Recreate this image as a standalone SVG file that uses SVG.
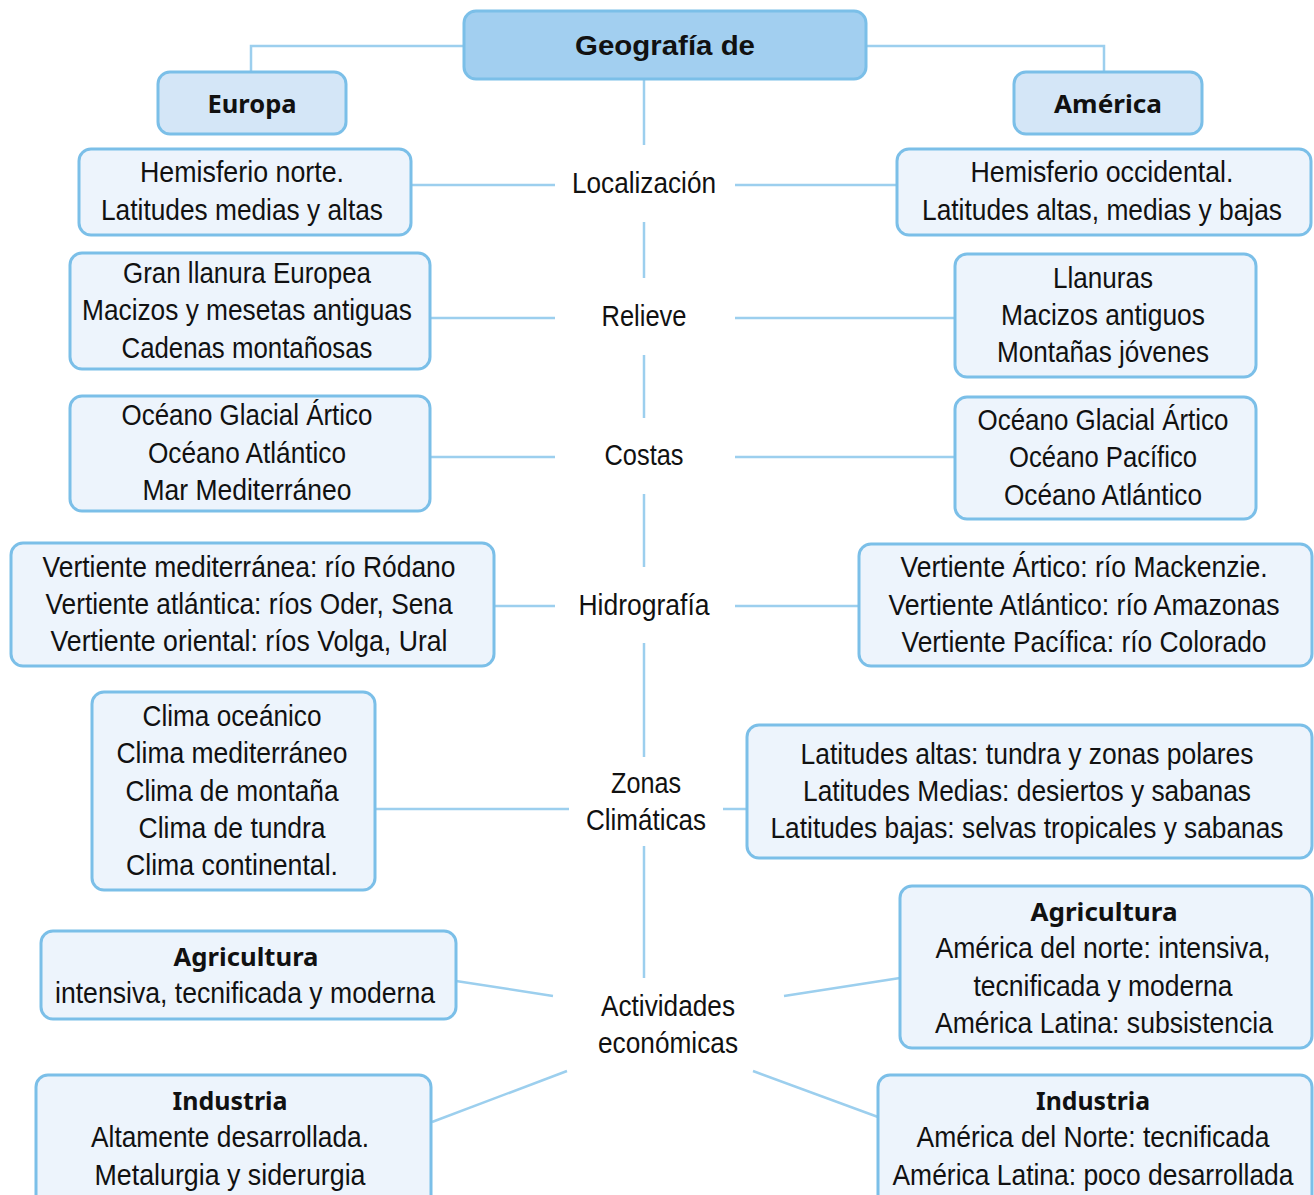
<svg xmlns="http://www.w3.org/2000/svg" width="1314" height="1195" viewBox="0 0 1314 1195">
<style>
.bx{fill:#edf4fc;stroke:#7bbfe8;stroke-width:3}
.hd{fill:#d4e6f7;stroke:#7bbfe8;stroke-width:3}
.tt{fill:#a2cff0;stroke:#7bbfe8;stroke-width:3}
.t{font-family:"Liberation Sans Narrow","Liberation Sans",Arial,sans-serif;font-size:29px;fill:#111;text-anchor:middle}
.b{font-family:"Noto Sans","Open Sans",sans-serif;font-weight:bold;font-size:25px;fill:#111;text-anchor:middle}
.g{font-family:"Liberation Sans",Arial,sans-serif;font-weight:bold;font-size:27px;fill:#111;text-anchor:middle}
#connectors line,#connectors polyline{stroke:#9ccfee;stroke-width:2.5;fill:none}
</style>
<rect width="1314" height="1195" fill="#fff"/>
<g id="connectors">
<polyline points="464,46 251,46 251,72"/>
<polyline points="866,46 1104,46 1104,72"/>
<line x1="644" y1="80" x2="644" y2="145"/>
<line x1="644" y1="222" x2="644" y2="278"/>
<line x1="644" y1="355" x2="644" y2="418"/>
<line x1="644" y1="494" x2="644" y2="567"/>
<line x1="644" y1="643" x2="644" y2="757"/>
<line x1="644" y1="846" x2="644" y2="978"/>
<line x1="411" y1="185" x2="555" y2="185"/>
<line x1="735" y1="185" x2="897" y2="185"/>
<line x1="430" y1="318" x2="555" y2="318"/>
<line x1="735" y1="318" x2="955" y2="318"/>
<line x1="430" y1="457" x2="555" y2="457"/>
<line x1="735" y1="457" x2="955" y2="457"/>
<line x1="494" y1="606" x2="555" y2="606"/>
<line x1="735" y1="606" x2="859" y2="606"/>
<line x1="375" y1="809" x2="569" y2="809"/>
<line x1="723" y1="809" x2="748" y2="809"/>
<line x1="456" y1="981" x2="553" y2="996"/>
<line x1="784" y1="996" x2="900" y2="978"/>
<line x1="432" y1="1122" x2="567" y2="1071"/>
<line x1="753" y1="1071" x2="878" y2="1117"/>
</g>
<g id="title"><rect class="tt" x="464" y="11" width="402" height="68" rx="12"/><text class="g" x="665" y="55" textLength="180" lengthAdjust="spacingAndGlyphs">Geografía de</text></g>
<g id="europa"><rect class="hd" x="158" y="72" width="188" height="62" rx="12"/><text class="b" x="252" y="113" textLength="89" lengthAdjust="spacingAndGlyphs">Europa</text></g>
<g id="america"><rect class="hd" x="1014" y="72" width="188" height="62" rx="12"/><text class="b" x="1108" y="113" textLength="108" lengthAdjust="spacingAndGlyphs">América</text></g>
<g id="lbl-localizacion"><text class="t" x="644" y="193" textLength="144" lengthAdjust="spacingAndGlyphs">Localización</text></g>
<g id="lbl-relieve"><text class="t" x="644" y="326" textLength="85" lengthAdjust="spacingAndGlyphs">Relieve</text></g>
<g id="lbl-costas"><text class="t" x="644" y="465" textLength="79" lengthAdjust="spacingAndGlyphs">Costas</text></g>
<g id="lbl-hidrografia"><text class="t" x="644" y="615" textLength="131" lengthAdjust="spacingAndGlyphs">Hidrografía</text></g>
<g id="lbl-zonas"><text class="t" x="646" y="793" textLength="70" lengthAdjust="spacingAndGlyphs">Zonas</text><text class="t" x="646" y="830" textLength="120" lengthAdjust="spacingAndGlyphs">Climáticas</text></g>
<g id="lbl-actividades"><text class="t" x="668" y="1016" textLength="134" lengthAdjust="spacingAndGlyphs">Actividades</text><text class="t" x="668" y="1053" textLength="140" lengthAdjust="spacingAndGlyphs">económicas</text></g>
<g id="eu-loc"><rect class="bx" x="79" y="149" width="332" height="86" rx="12"/><text class="t" x="242" y="182" textLength="204" lengthAdjust="spacingAndGlyphs">Hemisferio norte.</text><text class="t" x="242" y="220" textLength="282" lengthAdjust="spacingAndGlyphs">Latitudes medias y altas</text></g>
<g id="am-loc"><rect class="bx" x="897" y="149" width="414" height="86" rx="12"/><text class="t" x="1102" y="182" textLength="263" lengthAdjust="spacingAndGlyphs">Hemisferio occidental.</text><text class="t" x="1102" y="220" textLength="360" lengthAdjust="spacingAndGlyphs">Latitudes altas, medias y bajas</text></g>
<g id="eu-rel"><rect class="bx" x="70" y="253" width="360" height="116" rx="12"/><text class="t" x="247" y="283" textLength="248" lengthAdjust="spacingAndGlyphs">Gran llanura Europea</text><text class="t" x="247" y="320" textLength="330" lengthAdjust="spacingAndGlyphs">Macizos y mesetas antiguas</text><text class="t" x="247" y="358" textLength="251" lengthAdjust="spacingAndGlyphs">Cadenas montañosas</text></g>
<g id="am-rel"><rect class="bx" x="955" y="254" width="301" height="123" rx="12"/><text class="t" x="1103" y="288" textLength="100" lengthAdjust="spacingAndGlyphs">Llanuras</text><text class="t" x="1103" y="325" textLength="204" lengthAdjust="spacingAndGlyphs">Macizos antiguos</text><text class="t" x="1103" y="362" textLength="212" lengthAdjust="spacingAndGlyphs">Montañas jóvenes</text></g>
<g id="eu-cos"><rect class="bx" x="70" y="396" width="360" height="115" rx="12"/><text class="t" x="247" y="425" textLength="251" lengthAdjust="spacingAndGlyphs">Océano Glacial Ártico</text><text class="t" x="247" y="463" textLength="198" lengthAdjust="spacingAndGlyphs">Océano Atlántico</text><text class="t" x="247" y="500" textLength="209" lengthAdjust="spacingAndGlyphs">Mar Mediterráneo</text></g>
<g id="am-cos"><rect class="bx" x="955" y="397" width="301" height="122" rx="12"/><text class="t" x="1103" y="430" textLength="251" lengthAdjust="spacingAndGlyphs">Océano Glacial Ártico</text><text class="t" x="1103" y="467" textLength="188" lengthAdjust="spacingAndGlyphs">Océano Pacífico</text><text class="t" x="1103" y="505" textLength="198" lengthAdjust="spacingAndGlyphs">Océano Atlántico</text></g>
<g id="eu-hid"><rect class="bx" x="11" y="543" width="483" height="123" rx="12"/><text class="t" x="249" y="577" textLength="413" lengthAdjust="spacingAndGlyphs">Vertiente mediterránea: río Ródano</text><text class="t" x="249" y="614" textLength="407" lengthAdjust="spacingAndGlyphs">Vertiente atlántica: ríos Oder, Sena</text><text class="t" x="249" y="651" textLength="397" lengthAdjust="spacingAndGlyphs">Vertiente oriental: ríos Volga, Ural</text></g>
<g id="am-hid"><rect class="bx" x="859" y="544" width="453" height="122" rx="12"/><text class="t" x="1084" y="577" textLength="367" lengthAdjust="spacingAndGlyphs">Vertiente Ártico: río Mackenzie.</text><text class="t" x="1084" y="615" textLength="391" lengthAdjust="spacingAndGlyphs">Vertiente Atlántico: río Amazonas</text><text class="t" x="1084" y="652" textLength="365" lengthAdjust="spacingAndGlyphs">Vertiente Pacífica: río Colorado</text></g>
<g id="eu-cli"><rect class="bx" x="92" y="692" width="283" height="198" rx="12"/><text class="t" x="232" y="726" textLength="179" lengthAdjust="spacingAndGlyphs">Clima oceánico</text><text class="t" x="232" y="763" textLength="231" lengthAdjust="spacingAndGlyphs">Clima mediterráneo</text><text class="t" x="232" y="801" textLength="213" lengthAdjust="spacingAndGlyphs">Clima de montaña</text><text class="t" x="232" y="838" textLength="187" lengthAdjust="spacingAndGlyphs">Clima de tundra</text><text class="t" x="232" y="875" textLength="212" lengthAdjust="spacingAndGlyphs">Clima continental.</text></g>
<g id="am-cli"><rect class="bx" x="747" y="725" width="565" height="133" rx="12"/><text class="t" x="1027" y="764" textLength="453" lengthAdjust="spacingAndGlyphs">Latitudes altas: tundra y zonas polares</text><text class="t" x="1027" y="801" textLength="448" lengthAdjust="spacingAndGlyphs">Latitudes Medias: desiertos y sabanas</text><text class="t" x="1027" y="838" textLength="513" lengthAdjust="spacingAndGlyphs">Latitudes bajas: selvas tropicales y sabanas</text></g>
<g id="eu-agr"><rect class="bx" x="41" y="931" width="415" height="88" rx="12"/><text class="b" x="246" y="966" textLength="145" lengthAdjust="spacingAndGlyphs">Agricultura</text><text class="t" x="245" y="1003" textLength="380" lengthAdjust="spacingAndGlyphs">intensiva, tecnificada y moderna</text></g>
<g id="am-agr"><rect class="bx" x="900" y="886" width="412" height="162" rx="12"/><text class="b" x="1104" y="921" textLength="147" lengthAdjust="spacingAndGlyphs">Agricultura</text><text class="t" x="1103" y="958" textLength="335" lengthAdjust="spacingAndGlyphs">América del norte: intensiva,</text><text class="t" x="1103" y="996" textLength="259" lengthAdjust="spacingAndGlyphs">tecnificada y moderna</text><text class="t" x="1104" y="1033" textLength="338" lengthAdjust="spacingAndGlyphs">América Latina: subsistencia</text></g>
<g id="eu-ind"><rect class="bx" x="36" y="1075" width="395" height="140" rx="12"/><text class="b" x="230" y="1110" textLength="115" lengthAdjust="spacingAndGlyphs">Industria</text><text class="t" x="230" y="1147" textLength="278" lengthAdjust="spacingAndGlyphs">Altamente desarrollada.</text><text class="t" x="230" y="1185" textLength="271" lengthAdjust="spacingAndGlyphs">Metalurgia y siderurgia</text></g>
<g id="am-ind"><rect class="bx" x="878" y="1075" width="434" height="140" rx="12"/><text class="b" x="1093" y="1110" textLength="114" lengthAdjust="spacingAndGlyphs">Industria</text><text class="t" x="1093" y="1147" textLength="353" lengthAdjust="spacingAndGlyphs">América del Norte: tecnificada</text><text class="t" x="1093" y="1185" textLength="401" lengthAdjust="spacingAndGlyphs">América Latina: poco desarrollada</text></g>
</svg>
